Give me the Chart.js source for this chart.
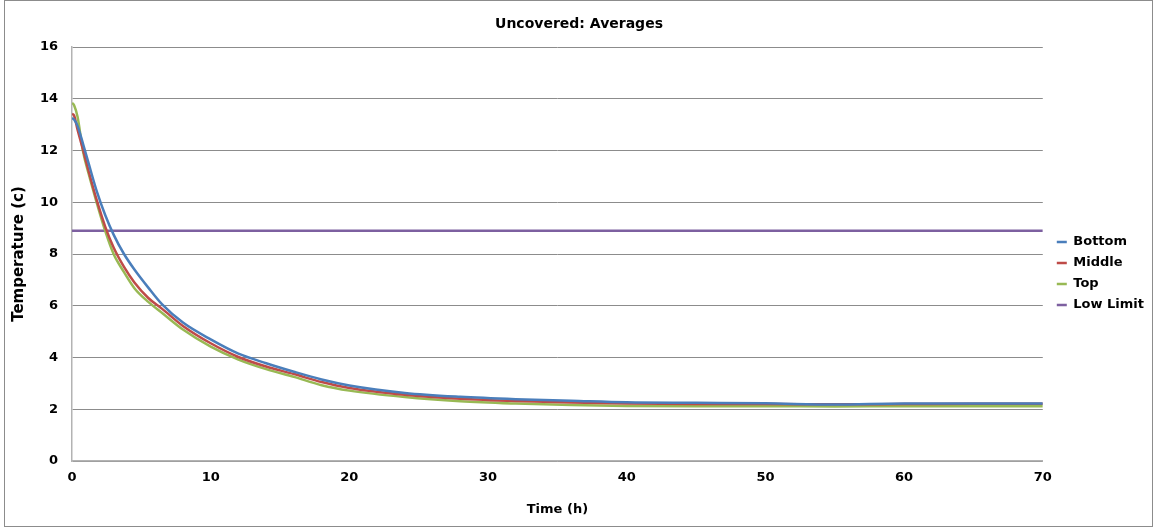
<!DOCTYPE html>
<html>
<head>
<meta charset="utf-8">
<script src="https://cdn.jsdelivr.net/npm/chart.js@4.4.0/dist/chart.umd.min.js"></script>
<style>
  html, body { margin: 0; padding: 0; background: #fff; }
  #wrap { position: absolute; left: 0; top: 0; width: 1156px; height: 527px; }
  #frame { position: absolute; left: 4px; top: 0; width: 1147px; height: 525px; border: 1px solid #8c8c8c; pointer-events: none; }
</style>
</head>
<body>
<div id="wrap">
  <canvas id="chart" width="1156" height="527"></canvas>
  <div id="frame"></div>
</div>
<script>
// Uncovered: averages - temperature vs time

const times = [0, 0.15, 0.4, 0.8, 1.2, 1.8, 2.4, 3.0, 3.75, 4.5, 5.5, 6.5, 8, 10, 12, 14, 16, 18, 20, 24, 28, 32, 36, 40, 45, 50, 55, 60, 65, 70];
const bottomTemp = [13.26, 13.2, 12.95, 12.25, 11.5, 10.4, 9.5, 8.75, 8.0, 7.4, 6.7, 6.05, 5.35, 4.7, 4.15, 3.78, 3.45, 3.15, 2.92, 2.63, 2.48, 2.39, 2.33, 2.27, 2.25, 2.23, 2.18, 2.22, 2.22, 2.22];
const middleTemp = [13.42, 13.35, 12.8, 12.02, 11.2, 10.05, 9.05, 8.25, 7.5, 6.9, 6.3, 5.88, 5.22, 4.55, 4.02, 3.65, 3.36, 3.05, 2.82, 2.56, 2.41, 2.32, 2.26, 2.22, 2.2, 2.2, 2.19, 2.2, 2.21, 2.21];
const topTemp = [13.84, 13.75, 13.3, 11.95, 11.1, 9.95, 8.88, 8.0, 7.3, 6.68, 6.15, 5.72, 5.08, 4.42, 3.92, 3.55, 3.25, 2.93, 2.72, 2.47, 2.31, 2.22, 2.16, 2.13, 2.12, 2.12, 2.11, 2.12, 2.12, 2.12];
const lowLimitTimes = [0, 70];
const lowLimitTemp = [8.9, 8.9];

const xTicks = [0, 10, 20, 30, 40, 50, 60, 70];
const yTicks = [0, 2, 4, 6, 8, 10, 12, 14, 16];

const seriesNames = ['Bottom', 'Middle', 'Top', 'Low Limit'];
const seriesColors = ['#4a7ebb', '#be4b48', '#98b954', '#7d60a0'];

const FONT = "'DejaVu Sans', sans-serif";

function toPoints(xs, ys) {
  return xs.map((x, i) => ({ x: x, y: ys[i] }));
}

const allData = [
  toPoints(times, bottomTemp),
  toPoints(times, middleTemp),
  toPoints(times, topTemp),
  toPoints(lowLimitTimes, lowLimitTemp)
];

const datasets = allData.map((d, i) => ({
  label: seriesNames[i],
  data: d,
  borderColor: seriesColors[i],
  backgroundColor: seriesColors[i],
  borderWidth: 2.5,
  pointRadius: 0,
  cubicInterpolationMode: 'monotone',
  fill: false
}));

// nudge legend to where the original sits
const legendNudge = {
  id: 'legendNudge',
  afterLayout(chart) {
    const lg = chart.legend;
    if (!lg) return;
    lg.left += 6; lg.right += 6;
    lg.top += 15; lg.bottom += 15;
  }
};

Chart.defaults.font.family = FONT;
Chart.defaults.font.weight = 'bold';
Chart.defaults.color = '#000';

new Chart(document.getElementById('chart'), {
  type: 'line',
  data: { datasets },
  plugins: [legendNudge],
  options: {
    responsive: false,
    animation: false,
    layout: { padding: { left: 10, right: 8, top: 0, bottom: 10 } },
    scales: {
      x: {
        type: 'linear',
        min: 0,
        max: 70,
        afterBuildTicks: (s) => { s.ticks = xTicks.map(v => ({ value: v })); },
        afterFit: (s) => { s.height = 56; },
        grid: { display: false, drawTicks: false },
        border: { display: true, color: '#b3b3b3', width: 1.5 },
        ticks: { padding: 9, font: { size: 13, weight: 'bold' } },
        title: { display: true, text: 'Time (h)', padding: 0, font: { size: 13, weight: 'bold' } }
      },
      y: {
        min: 0,
        max: 16,
        afterBuildTicks: (s) => { s.ticks = yTicks.map(v => ({ value: v })); },
        afterFit: (s) => { s.width = 62; },
        grid: { color: '#8c8c8c', lineWidth: 1, drawTicks: false },
        border: { display: true, color: '#b3b3b3', width: 1.5 },
        ticks: { padding: 14, font: { size: 13, weight: 'bold' } },
        title: { display: true, text: 'Temperature (c)', padding: 0, font: { size: 15, weight: 'bold' } }
      }
    },
    plugins: {
      title: {
        display: true,
        text: 'Uncovered: Averages',
        padding: { top: 16, bottom: 14.2 },
        font: { size: 14, weight: 'bold' }
      },
      legend: {
        position: 'right',
        labels: {
          usePointStyle: true,
          pointStyle: 'line',
          pointStyleWidth: 10,
          padding: 8,
          font: { size: 13, weight: 'bold' }
        }
      },
      tooltip: { enabled: false }
    }
  }
});
</script>
</body>
</html>
